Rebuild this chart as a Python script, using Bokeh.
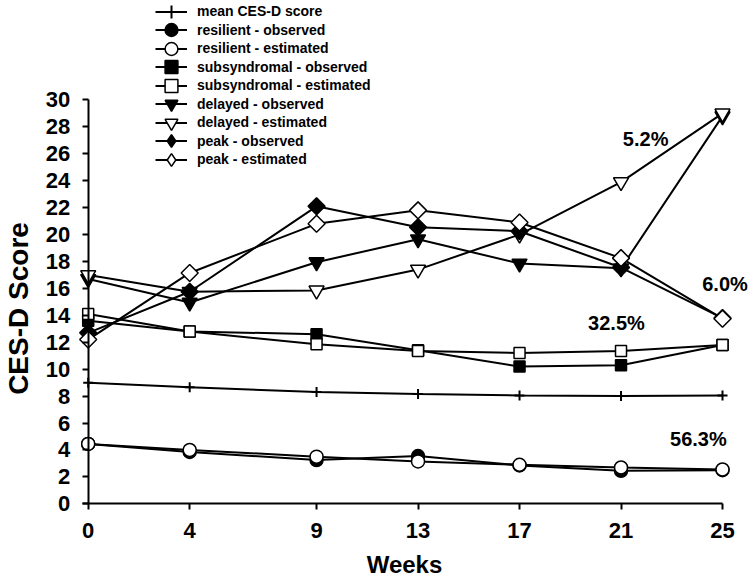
import math
from bokeh.plotting import figure
from bokeh.models import Range1d, FixedTicker, Legend, LegendItem, Label
from bokeh.embed import file_html
from bokeh.resources import INLINE

# ---- data ----
weeks = [0, 4, 9, 13, 17, 21, 25]
mean_cesd = [9.0, 8.65, 8.3, 8.15, 8.05, 8.0, 8.05]
resilient_obs = [4.45, 3.85, 3.25, 3.55, 2.85, 2.45, 2.5]
resilient_est = [4.45, 4.0, 3.5, 3.15, 2.9, 2.7, 2.55]
subsyn_obs = [13.6, 12.8, 12.6, 11.4, 10.2, 10.3, 11.8]
subsyn_est = [14.1, 12.8, 11.85, 11.35, 11.2, 11.35, 11.8]
delayed_obs = [16.7, 14.95, 17.95, 19.65, 17.85, 17.5, 28.8]
delayed_est = [17.0, 15.75, 15.85, 17.4, 20.0, 23.9, 29.0]
peak_obs = [12.7, 15.75, 22.1, 20.55, 20.25, 17.55, 13.8]
peak_est = [12.2, 17.15, 20.8, 21.8, 20.9, 18.25, 13.75]

series_names = ["mean CES-D score", "resilient - observed", "resilient - estimated",
                "subsyndromal - observed", "subsyndromal - estimated",
                "delayed - observed", "delayed - estimated",
                "peak - observed", "peak - estimated"]
week_ticks = [0, 4, 9, 13, 17, 21, 25]
score_ticks = list(range(0, 31, 2))
pct_labels = ["5.2%", "6.0%", "32.5%", "56.3%"]

FONT = "Liberation Sans"
W, H = 754, 578

# frame covers the whole canvas; axes are pinned at 0 with fixed_location
p = figure(width=W, height=H, output_backend="svg", toolbar_location=None,
           x_range=Range1d(-3.4566, 26.261), y_range=Range1d(-5.55, 37.39),
           min_border_left=0, min_border_right=0, min_border_top=0,
           min_border_bottom=0)
p.outline_line_color = None
p.xgrid.visible = False
p.ygrid.visible = False
p.background_fill_color = "white"

p.xaxis.ticker = FixedTicker(ticks=week_ticks)
p.xaxis.bounds = (-0.22, 25)
p.xaxis.fixed_location = 0
p.yaxis.ticker = FixedTicker(ticks=score_ticks)
p.yaxis.bounds = (0, 30)
p.yaxis.fixed_location = 0
for ax in (p.xaxis[0], p.yaxis[0]):
    ax.axis_line_width = 2
    ax.axis_line_color = "black"
    ax.major_tick_line_width = 2
    ax.major_tick_line_color = "black"
    ax.major_tick_out = 6
    ax.major_tick_in = 0
    ax.minor_tick_out = 0
    ax.minor_tick_in = 0
    ax.major_label_text_font = FONT
    ax.major_label_text_font_style = "bold"
    ax.major_label_text_font_size = "22px"
    ax.major_label_text_color = "black"
p.xaxis.major_label_standoff = 13
p.yaxis.major_label_standoff = 12

styles = [
    (mean_cesd, "cross", 10, "black"),
    (resilient_obs, "circle", 13, "black"),
    (resilient_est, "circle", 13, "white"),
    (subsyn_obs, "square", 11, "black"),
    (subsyn_est, "square", 11, "white"),
    (delayed_obs, "inverted_triangle", 15, "black"),
    (delayed_est, "inverted_triangle", 15, "white"),
    (peak_obs, "square", 12, "black"),
    (peak_est, "square", 12, "white"),
]

row_pitch = 18.5
first_row = 11.0
for i, (vals, marker, size, fill) in enumerate(styles):
    lw = 2 if marker == "cross" else 1.5
    rl = p.line(weeks, vals, line_color="black", line_width=2)
    is_diamond = i >= 7
    if is_diamond:
        # diamond glyph for the legend (the legend ignores marker angle);
        # it sits under the rotated squares drawn next
        rd = p.scatter(weeks, vals, marker="diamond", size=size, fill_color=fill,
                       line_color="black", line_width=lw)
    rm = p.scatter(weeks, vals, marker=marker, size=size, fill_color=fill,
                   line_color="black", line_width=lw,
                   angle=math.pi / 4 if is_diamond else 0)
    renderers = [rl, rd] if is_diamond else [rl, rm]
    row_center = first_row + i * row_pitch
    leg = Legend(items=[LegendItem(label=series_names[i], renderers=renderers)],
                 location=(155, H - (row_center + 16.5)), padding=0, margin=0,
                 spacing=0, glyph_width=32, glyph_height=33, label_height=33,
                 label_standoff=10, border_line_color=None,
                 background_fill_alpha=0, label_text_font=FONT,
                 label_text_font_style="bold", label_text_font_size="14px",
                 label_text_color="black")
    p.add_layout(leg)

pct_pos = [(21.97, 27.1), (25.1, 16.3), (20.82, 13.4), (24.05, 4.78)]
for t, (x, y) in zip(pct_labels, pct_pos):
    p.add_layout(Label(x=x, y=y, text=t, text_align="center", text_baseline="middle",
                       text_font=FONT, text_font_style="bold",
                       text_font_size="20px", text_color="black"))

p.add_layout(Label(x=17.5, y=H - 308, x_units="screen", y_units="screen",
                   text="CES-D Score", angle=math.pi / 2, text_align="center",
                   text_baseline="middle", text_font=FONT, text_font_style="bold",
                   text_font_size="28px", text_color="black"))
p.add_layout(Label(x=404, y=H - 564, x_units="screen", y_units="screen",
                   text="Weeks", text_align="center", text_baseline="middle",
                   text_font=FONT, text_font_style="bold",
                   text_font_size="24px", text_color="black"))

open("out.html", "w").write(file_html(p, INLINE))
